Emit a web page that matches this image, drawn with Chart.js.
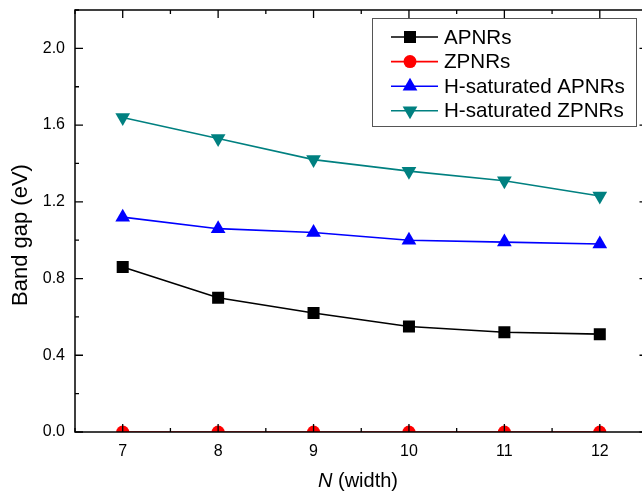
<!DOCTYPE html>
<html>
<head>
<meta charset="utf-8">
<script src="https://cdn.jsdelivr.net/npm/chart.js@4"></script>
<style>
  html, body { margin: 0; padding: 0; background: #fff; overflow: hidden; }
  #c { display: block; }
</style>
</head>
<body>
<canvas id="c" width="656" height="491"></canvas>
<script>
  // N (width)
  var widths = [7, 8, 9, 10, 11, 12];
  // band gaps, eV
  var apnrs    = [0.86, 0.70, 0.62, 0.55, 0.52, 0.51];
  var zpnrs    = [0.00, 0.00, 0.00, 0.00, 0.00, 0.00];
  var hApnrs   = [1.12, 1.06, 1.04, 1.00, 0.99, 0.98];
  var hZpnrs   = [1.64, 1.53, 1.42, 1.36, 1.31, 1.23];
  var seriesNames = ['APNRs', 'ZPNRs', 'H-saturated APNRs', 'H-saturated ZPNRs'];
  var yTicks = [0.0, 0.4, 0.8, 1.2, 1.6, 2.0];

  var FONT = 'Arial, "Liberation Sans", sans-serif';

  function pts(vals) {
    return vals.map(function (v, i) { return { x: widths[i], y: v }; });
  }

  function ds(label, vals, color, style, radius, rot) {
    return {
      label: label, data: pts(vals),
      borderColor: color, backgroundColor: color,
      borderWidth: 1.6, pointStyle: style, pointRadius: radius,
      pointRotation: rot || 0, pointBorderWidth: 0, pointHoverRadius: radius,
      tension: 0
    };
  }

  // frame, inward ticks, titles, legend
  var decor = {
    id: 'decor',
    afterDraw: function (chart) {
      var ctx = chart.ctx, a = chart.chartArea;
      var xs = chart.scales.x, ys = chart.scales.y;
      ctx.save();
      ctx.strokeStyle = '#000';
      ctx.lineWidth = 1.5;
      ctx.strokeRect(a.left, a.top, a.right - a.left, a.bottom - a.top);

      ctx.lineWidth = 1.3;
      ctx.beginPath();
      for (var v = 6.5; v <= 12.5; v += 0.5) {
        var px = xs.getPixelForValue(v);
        var len = (v % 1 === 0) ? 8 : 4;
        ctx.moveTo(px, a.bottom); ctx.lineTo(px, a.bottom - len);
        ctx.moveTo(px, a.top); ctx.lineTo(px, a.top + len);
      }
      for (var k = 0; k <= 11; k++) {
        var yv = k * 0.2;
        var py = ys.getPixelForValue(yv);
        var l2 = (k % 2 === 0) ? 8 : 4;
        ctx.moveTo(a.left, py); ctx.lineTo(a.left + l2, py);
        ctx.moveTo(a.right, py); ctx.lineTo(a.right - l2, py);
      }
      ctx.stroke();

      // axis titles
      ctx.fillStyle = '#000';
      ctx.font = '22px ' + FONT;
      ctx.textBaseline = 'middle';
      ctx.textAlign = 'center';
      ctx.save();
      ctx.translate(21, 235);
      ctx.rotate(-Math.PI / 2);
      ctx.fillText('Band gap (eV)', 0, 0);
      ctx.restore();

      ctx.textAlign = 'left';
      ctx.textBaseline = 'alphabetic';
      ctx.font = 'italic 20px ' + FONT;
      var wN = ctx.measureText('N').width;
      ctx.font = '20px ' + FONT;
      var wRest = ctx.measureText(' (width)').width;
      var x0 = 358 - (wN + wRest) / 2;
      ctx.font = 'italic 20px ' + FONT;
      ctx.fillText('N', x0, 487);
      ctx.font = '20px ' + FONT;
      ctx.fillText(' (width)', x0 + wN, 487);

      // legend
      ctx.lineWidth = 1;
      ctx.strokeStyle = '#555';
      ctx.fillStyle = '#fff';
      ctx.fillRect(372.5, 18.5, 264, 108);
      ctx.strokeRect(372.5, 18.5, 264, 108);
      chart.data.datasets.forEach(function (d, i) {
        var ly = 37 + i * 24.6;
        ctx.strokeStyle = d.borderColor;
        ctx.lineWidth = 1.6;
        ctx.beginPath();
        ctx.moveTo(391, ly); ctx.lineTo(438, ly);
        ctx.stroke();
        ctx.fillStyle = d.backgroundColor;
        Chart.helpers.drawPoint(ctx, {
          pointStyle: d.pointStyle, radius: d.pointRadius, rotation: d.pointRotation, borderWidth: 0
        }, 410, ly);
        ctx.fillStyle = '#000';
        ctx.font = '20.6px ' + FONT;
        ctx.textBaseline = 'middle';
        ctx.textAlign = 'left';
        ctx.fillText(d.label, 444, ly + 1);
      });
      ctx.restore();
    }
  };

  new Chart(document.getElementById('c'), {
    type: 'line',
    data: {
      datasets: [
        ds(seriesNames[0], apnrs, '#000000', 'rect', 8.5),
        ds(seriesNames[1], zpnrs, '#ff0000', 'circle', 6.5),
        ds(seriesNames[2], hApnrs, '#0000ff', 'triangle', 8.5),
        ds(seriesNames[3], hZpnrs, '#008080', 'triangle', 8.5, 180)
      ]
    },
    options: {
      responsive: false,
      animation: false,
      devicePixelRatio: 1,
      layout: { padding: { top: 10, right: 2, left: 0, bottom: 0 } },
      plugins: { legend: { display: false }, tooltip: { enabled: false } },
      scales: {
        x: {
          type: 'linear', min: 6.5, max: 12.5,
          grid: { display: false, drawTicks: false },
          border: { display: false },
          afterBuildTicks: function (s) { s.ticks = widths.map(function (w) { return { value: w }; }); },
          afterFit: function (s) { s.height = 59; s.paddingLeft = 0; s.paddingRight = 0; },
          ticks: { color: '#000', padding: 10, font: { size: 16, family: FONT } }
        },
        y: {
          min: 0, max: 2.2,
          grid: { display: false, drawTicks: false },
          border: { display: false },
          afterBuildTicks: function (s) { s.ticks = yTicks.map(function (t) { return { value: t }; }); },
          afterFit: function (s) { s.width = 75; s.paddingTop = 0; s.paddingBottom = 0; },
          ticks: {
            color: '#000', padding: 10, font: { size: 16, family: FONT },
            callback: function (v) { return v.toFixed(1); }
          }
        }
      }
    },
    plugins: [decor]
  });
</script>
</body>
</html>
